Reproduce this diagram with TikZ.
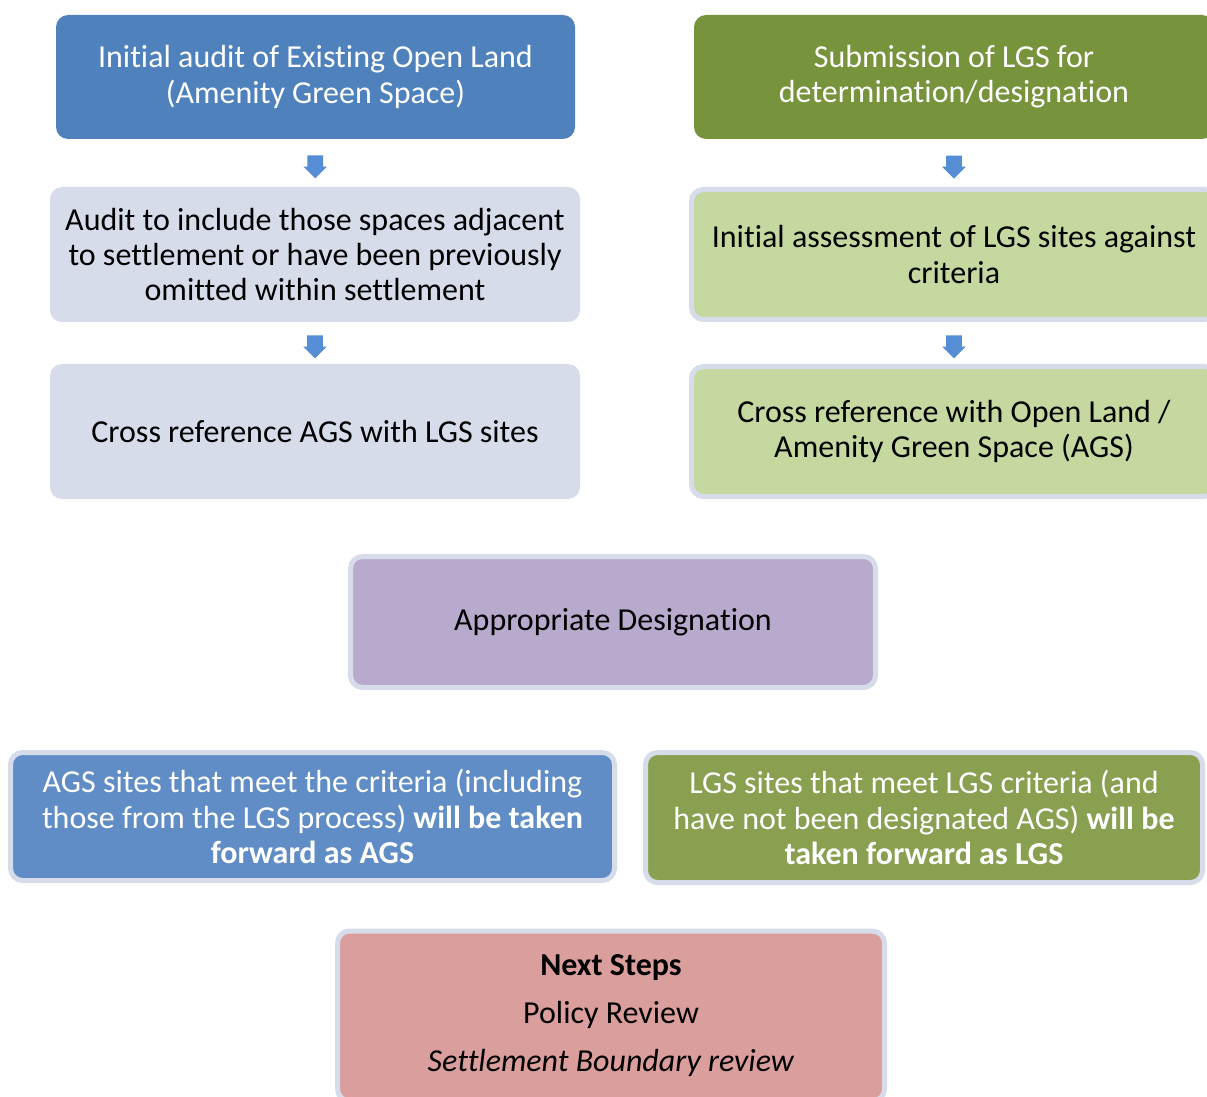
\documentclass[tikz,border=0pt]{standalone}
\usepackage{fontspec}
\setmainfont{Carlito}[Ligatures=NoCommon]
\usetikzlibrary{shapes.arrows,calc}
\definecolor{auditblue}{RGB}{79,129,189}
\definecolor{paleblue}{RGB}{214,220,233}
\definecolor{lgsgreen}{RGB}{119,147,60}
\definecolor{palegreen}{RGB}{197,216,160}
\definecolor{lilac}{RGB}{184,170,204}
\definecolor{agsblue}{RGB}{96,141,197}
\definecolor{olive}{RGB}{136,160,80}
\definecolor{rose}{RGB}{218,158,156}
\definecolor{arrowblue}{RGB}{85,142,213}
\tikzset{
  box/.style={rectangle, rounded corners=6pt, align=center, inner sep=0pt,
    font=\fontsize{16}{17.6}\selectfont},
  framed/.style={box, draw=paleblue, line width=2.5pt},
  downarrow/.style={single arrow, fill=arrowblue, draw=none, inner sep=0pt,
    minimum height=11.5pt, single arrow head extend=2pt,
    shape border rotate=270},
}
\begin{document}
\begin{tikzpicture}[x=0.5pt,y=-0.5pt]
\useasboundingbox (0,0) rectangle (1207,1097);
\clip (0,0) rectangle (1207,1097);
% left column: AGS audit
\node[box, fill=auditblue, text=white, minimum width=259.5pt, minimum height=62pt]
  (audit) at (315.5,77) {Initial audit of Existing Open Land\\(Amenity Green Space)};
\node[box, fill=paleblue, minimum width=265pt, minimum height=67.5pt]
  (include) at (315,254.5) {Audit to include those spaces adjacent\\to settlement or have been previously\\omitted within settlement};
\node[box, fill=paleblue, minimum width=265pt, minimum height=67.5pt]
  (crossags) at (315,431.5) {Cross reference AGS with LGS sites};
% right column: LGS submissions
\node[box, fill=lgsgreen, text=white, minimum width=260pt, minimum height=62pt]
  (submit) at (954,77) {Submission of LGS for\\determination/designation};
\node[framed, fill=palegreen, minimum width=262.5pt, minimum height=65pt]
  (assess) at (954,254.5) {Initial assessment of LGS sites against\\criteria};
\node[framed, fill=palegreen, minimum width=262.5pt, minimum height=65pt]
  (crossol) at (954,431.5) {Cross reference with Open Land /\\Amenity Green Space (AGS)};
% block arrows between the boxes
\node[downarrow] (a1) at ($(audit.south)!0.5!(include.north)$) {\rule{7.5pt}{0pt}};
\node[downarrow] (a2) at ($(include.south)!0.5!(crossags.north)$) {\rule{7.5pt}{0pt}};
\node[downarrow] (b1) at ($(submit.south)!0.5!(assess.north)$) {\rule{7.5pt}{0pt}};
\node[downarrow] (b2) at ($(assess.south)!0.5!(crossol.north)$) {\rule{7.5pt}{0pt}};
% outcome
\node[framed, fill=lilac, minimum width=262.5pt, minimum height=65.5pt]
  (design) at (613,622) {Appropriate Designation};
\node[framed, fill=agsblue, text=white, minimum width=302pt, minimum height=64pt]
  (agsfwd) at (312.5,816.5) {AGS sites that meet the criteria (including\\those from the LGS process) \textbf{will be taken}\\\textbf{forward as AGS}};
\node[framed, fill=olive, text=white, minimum width=278.5pt, minimum height=65pt]
  (lgsfwd) at (924,817.5) {LGS sites that meet LGS criteria (and\\have not been designated AGS) \textbf{will be}\\\textbf{taken forward as LGS}};
\node[framed, fill=rose, minimum width=273.5pt, minimum height=85pt]
  (next) at (611,1016) {\textbf{Next Steps}\\[6.4pt]Policy Review\\[6.4pt]\textit{Settlement Boundary review}};
\end{tikzpicture}
\end{document}
